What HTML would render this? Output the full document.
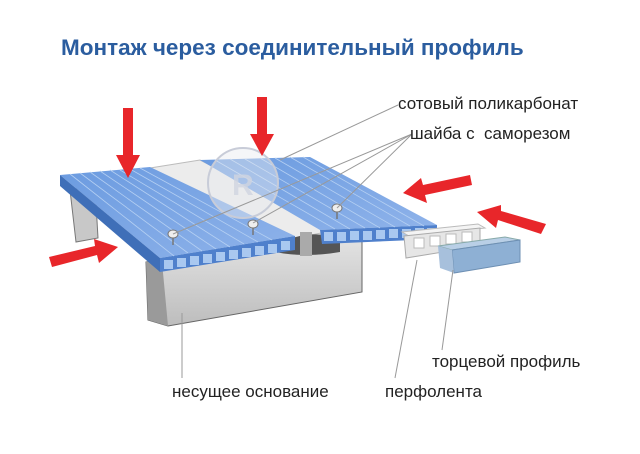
<!DOCTYPE html>
<html><head><meta charset="utf-8"><style>
html,body{margin:0;padding:0;background:#fff;width:640px;height:454px;overflow:hidden}
svg{display:block}
text{font-family:"Liberation Sans",sans-serif}
</style></head><body>
<svg width="640" height="454" viewBox="0 0 640 454" xmlns="http://www.w3.org/2000/svg">
<defs>
<linearGradient id="bl" x1="0" y1="0" x2="1" y2="1"><stop offset="0" stop-color="#6b9be0"/><stop offset="1" stop-color="#8fb3ea"/></linearGradient>
<linearGradient id="gr" x1="0" y1="0" x2="0" y2="1"><stop offset="0" stop-color="#e2e2e2"/><stop offset="1" stop-color="#bdbdbd"/></linearGradient>
</defs>
<text x="61" y="55" font-size="22.5" font-weight="bold" fill="#2b5d9f">Монтаж через соединительный профиль</text>

<polygon points="70,190 95,186 98,238 76,242" fill="#c8c8c8" stroke="#777" stroke-width="1"/>
<polygon points="146,262 362,240 362,292 168,326 148,320" fill="url(#gr)" stroke="#666" stroke-width="1"/>
<polygon points="146,262 162,262 168,326 148,320" fill="#9a9a9a"/>

<polygon points="150,168 200,160 337,230 295,238" fill="#ececec" stroke="#bbb" stroke-width="1"/>
<path d="M275,246 Q305,228 340,238 L340,252 Q305,258 275,252 Z" fill="#555"/>
<rect x="300" y="232" width="12" height="24" fill="#aaa"/>

<polygon points="60,175 150,167 295,236 160,258" fill="url(#bl)"/>
<polygon points="60,175 160,258 160,272 60,186" fill="#3f6fb8"/>
<polygon points="160,258 295,236 295,250 160,272" fill="#4f80cc"/>
<g stroke="#b4cff2" stroke-width="0.8">
<line x1="70" y1="174" x2="174" y2="256"/><line x1="80" y1="173" x2="188" y2="253"/><line x1="90" y1="172" x2="202" y2="251"/><line x1="100" y1="171" x2="216" y2="249"/><line x1="110" y1="170" x2="230" y2="247"/><line x1="120" y1="170" x2="244" y2="244"/><line x1="130" y1="169" x2="258" y2="242"/><line x1="140" y1="168" x2="272" y2="240"/>
</g>
<g fill="#a9c8f0">
<rect x="164" y="260" width="9" height="9"/><rect x="177" y="258" width="9" height="9"/><rect x="190" y="256" width="9" height="9"/><rect x="203" y="254" width="9" height="9"/><rect x="216" y="252" width="9" height="9"/><rect x="229" y="250" width="9" height="9"/><rect x="242" y="248" width="9" height="9"/><rect x="255" y="246" width="9" height="9"/><rect x="268" y="244" width="9" height="9"/><rect x="281" y="241" width="9" height="9"/>
</g>

<polygon points="200,160 310,157 437,225 320,230" fill="url(#bl)"/>
<polygon points="320,230 437,225 437,239 322,244" fill="#4f80cc"/>
<g stroke="#b4cff2" stroke-width="0.8">
<line x1="215" y1="160" x2="335" y2="229"/><line x1="230" y1="159" x2="350" y2="229"/><line x1="245" y1="159" x2="365" y2="228"/><line x1="260" y1="158" x2="380" y2="228"/><line x1="275" y1="158" x2="395" y2="227"/><line x1="290" y1="157" x2="410" y2="226"/><line x1="303" y1="157" x2="424" y2="226"/>
</g>
<g fill="#a9c8f0">
<rect x="324" y="232" width="9" height="9"/><rect x="337" y="232" width="9" height="9"/><rect x="350" y="231" width="9" height="9"/><rect x="363" y="231" width="9" height="9"/><rect x="376" y="230" width="9" height="9"/><rect x="389" y="229" width="9" height="9"/><rect x="402" y="229" width="9" height="9"/><rect x="415" y="228" width="9" height="9"/><rect x="427" y="228" width="8" height="9"/>
</g>

<circle cx="243" cy="183" r="35" fill="#e8eaf0" fill-opacity="0.45" stroke="#c8ccd8" stroke-width="2"/>
<text x="232" y="195" font-size="30" font-weight="bold" fill="#d0d4e0" fill-opacity="0.8">R</text>

<g fill="#eee" stroke="#777" stroke-width="1">
<ellipse cx="173" cy="234" rx="5" ry="4"/><ellipse cx="253" cy="224" rx="5" ry="4"/><ellipse cx="337" cy="208" rx="5" ry="4"/>
</g>
<g stroke="#777" stroke-width="1.5">
<line x1="173" y1="238" x2="173" y2="245"/><line x1="253" y1="228" x2="253" y2="235"/><line x1="337" y1="212" x2="337" y2="219"/>
</g>

<polygon points="402,232 478,224 485,228 409,236" fill="#f4f4f4" stroke="#bbb"/>
<polygon points="404,236 480,228 480,246 406,258" fill="#e6e6e6" stroke="#aaa"/>
<g fill="#fff" stroke="#bbb"><rect x="414" y="238" width="10" height="10"/><rect x="430" y="236" width="10" height="10"/><rect x="446" y="234" width="10" height="10"/><rect x="462" y="232" width="10" height="10"/></g>
<polygon points="438,246 505,237 520,240 452,250" fill="#b9cfe6" stroke="#8aa"/>
<polygon points="452,250 520,240 520,262 454,273" fill="#8eb0d4" stroke="#6d8fb3"/>
<polygon points="438,246 452,250 454,273 440,268" fill="#a7c0dc"/>

<g stroke="#999" stroke-width="1" fill="none">
<line x1="398" y1="105" x2="280" y2="160"/>
<line x1="412" y1="134" x2="173" y2="234"/>
<line x1="412" y1="134" x2="253" y2="223"/>
<line x1="412" y1="134" x2="337" y2="208"/>
<line x1="182" y1="313" x2="182" y2="378"/>
<line x1="417" y1="260" x2="395" y2="378"/>
<line x1="453" y1="270" x2="442" y2="350"/>
</g>

<g fill="#e8262a">
<polygon points="123,108 133,108 133,155 140,155 128,178 116,155 123,155"/>
<polygon points="257,97 267,97 267,134 274,134 262,156 250,134 257,134"/>
<polygon points="470,175 472,185 425,195 427,203 403,193 421,178 423,185"/>
<polygon points="546,224 541,234 498,220 496,228 477,212 501,205 501,211"/>
<polygon points="49,257 52,267 97,255 99,263 118,247 94,239 95,246"/>
</g>

<g font-size="17" fill="#222">
<text x="398" y="109">сотовый поликарбонат</text>
<text x="410" y="139">шайба с&#160;&#160;саморезом</text>
<text x="432" y="367">торцевой профиль</text>
<text x="172" y="397">несущее основание</text>
<text x="385" y="397">перфолента</text>
</g>
</svg>
</body></html>
